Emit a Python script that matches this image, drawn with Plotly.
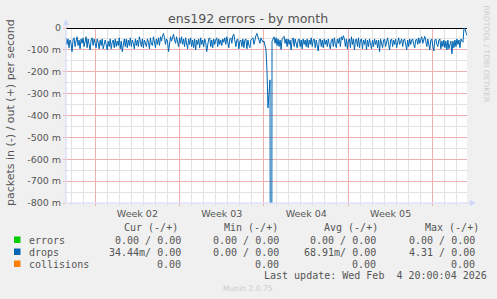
import plotly.graph_objects as go
import pandas as pd

# ---------------- data ----------------
# drops "in" rate, milli-packets per second, 2-hour samples (graphed negative)
drops_in_m = [
    45, 75, 50, 90, 55, 70, 108, 55, 45, 85, 60, 40, 80, 55, 95, 50, 70, 45, 85, 55,
    40, 90, 50, 75, 100, 55, 45, 80, 50, 70, 90, 50, 65, 95, 55, 80, 50, 95, 70, 55,
    75, 100, 60, 85, 50, 95, 65, 55, 90, 50, 85, 60, 80, 45, 95, 60, 108, 65, 50, 85,
    50, 90, 55, 80, 45, 85, 55, 70, 95, 50, 80, 55, 85, 40, 70, 85, 50, 90, 55, 75,
    85, 50, 65, 95, 45, 75, 80, 40, 60, 90, 50, 75, 45, 80, 40, 60, 35, 25, 45, 75,
    50, 60, 108, 55, 40, 60, 35, 28, 55, 70, 40, 60, 85, 45, 70, 40, 75, 50, 85, 45,
    65, 95, 50, 75, 45, 85, 55, 90, 50, 100, 55, 75, 50, 90, 45, 75, 55, 85, 50, 65,
    108, 70, 50, 45, 85, 55, 90, 50, 75, 55, 45, 85, 50, 75, 55, 80, 50, 65, 45, 75,
    40, 65, 90, 50, 45, 70, 35, 28, 60, 85, 55, 50, 95, 60, 55, 85, 50, 90, 55, 50,
    95, 55, 80, 90, 55, 50, 45, 75, 50, 35, 25, 45, 60, 70, 45, 55, 65, 60, 75, 100,
    200, 365, 300, 237, 4310, 60, 50, 40, 70, 45, 80, 50, 85, 55, 98, 50, 45, 38, 70, 50,
    85, 50, 75, 55, 100, 55, 45, 85, 50, 75, 90, 55, 50, 85, 55, 95, 50, 75, 55, 85,
    50, 90, 55, 75, 45, 85, 55, 50, 90, 55, 75, 105, 55, 50, 85, 55, 90, 50, 75, 55,
    85, 50, 75, 95, 55, 50, 85, 45, 75, 90, 50, 70, 45, 85, 40, 55, 35, 50, 85, 50,
    95, 55, 50, 90, 40, 75, 50, 100, 55, 50, 85, 45, 90, 55, 50, 95, 55, 75, 50, 100,
    55, 85, 50, 75, 95, 55, 85, 50, 75, 55, 90, 55, 108, 50, 75, 90, 55, 50, 85, 55,
    45, 75, 100, 55, 50, 85, 55, 75, 50, 90, 55, 45, 75, 55, 50, 85, 55, 50, 75, 100,
    55, 85, 50, 75, 55, 50, 75, 90, 55, 50, 75, 45, 70, 50, 40, 70, 45, 38, 60, 85,
    50, 75, 100, 55, 50, 85, 105, 55, 50, 75, 85, 55, 50, 95, 60, 85, 55, 90, 60, 100,
    55, 95, 80, 60, 118, 60, 90, 55, 85, 50, 75, 55, 90, 50, 60, 65, 0, 3, 20, 34.44,
]
sample_start = "2026-01-02 14:00"
sample_step = "2h"

x_range = ["2026-01-02 14:00", "2026-02-04 20:00"]
week_starts = ["2026-01-05", "2026-01-12", "2026-01-19", "2026-01-26", "2026-02-02"]
week_label_pos = ["2026-01-08 12:00", "2026-01-15 12:00", "2026-01-22 12:00", "2026-01-29 12:00"]
week_labels = ["Week 02", "Week 03", "Week 04", "Week 05"]

y_tickvals = [0, -0.1, -0.2, -0.3, -0.4, -0.5, -0.6, -0.7, -0.8]
y_ticktext = ["0", "-100 m", "-200 m", "-300 m", "-400 m", "-500 m", "-600 m", "-700 m", "-800 m"]

legend_names = ["errors", "drops", "collisions"]
legend_colors = ["#00CC00", "#0066B3", "#FF8000"]
col_headers = ["Cur (-/+)", "Min (-/+)", "Avg (-/+)", "Max (-/+)"]
cur_vals = ["0.00 / 0.00", "34.44m/ 0.00", "0.00"]
min_vals = ["0.00 / 0.00", "0.00 / 0.00", "0.00"]
avg_vals = ["0.00 / 0.00", "68.91m/ 0.00", "0.00"]
max_vals = ["0.00 / 0.00", "4.31 / 0.00", "0.00"]
last_update = "Last update: Wed Feb  4 20:00:04 2026"

# ---------------- layout geometry ----------------
W, H = 497, 299
L, R, T, B = 66, 467, 28, 203


def px(x):
    return (x - L) / (R - L)


def py(y):
    return (B - y) / (B - T)


times = pd.date_range(sample_start, periods=len(drops_in_m), freq=sample_step)
drops_y = [-v / 1000.0 for v in drops_in_m]

# daily minor grid positions (Mondays carry the weekly major grid)
all_days = pd.date_range("2026-01-03", "2026-02-04", freq="D")
minor_days = [d.strftime("%Y-%m-%d") for d in all_days if d.weekday() != 0]

FONT = "DejaVu Sans"
MONO = "DejaVu Sans Mono"
TXT = "#555555"
GRID = "#E2E2E2"
MGRID = "#F0B0B0"
AXIS = "#CFD6F8"

fig = go.Figure()
fig.add_trace(go.Scatter(x=times, y=drops_y, mode="lines",
                         line=dict(color="#0066B3", width=1), hoverinfo="skip",
                         showlegend=False))
# invisible companion on the label axis so it shares the date scale
fig.add_trace(go.Scatter(x=[times[0]], y=[drops_y[0]], xaxis="x2", mode="lines",
                         line=dict(width=0), hoverinfo="skip", showlegend=False))

annotations = []


def text(x, y, s, size=10, color=TXT, family=MONO, xanchor="left", angle=0):
    annotations.append(dict(x=px(x), y=py(y), xref="paper", yref="paper", text=s,
                            showarrow=False, xanchor=xanchor, yanchor="middle",
                            textangle=angle,
                            font=dict(family=family, size=size, color=color)))


# title / side texts
text(248, 18.5, "ens192 errors - by month", size=12.6, family=FONT, xanchor="center")
text(10, 113, "packets in (-) / out (+) per second", size=11, family=FONT,
     xanchor="center", angle=-90)
text(486, 53.5, "RRDTOOL / TOBI OETIKER", size=7.5, family=FONT, color="#CCCCCC",
     xanchor="center", angle=90)
text(248, 288, "Munin 2.0.75", size=7.6, family=FONT, color="#CCCCCC", xanchor="center")

# legend table
header_x = [122, 222, 322, 423]
for hx, h in zip(header_x, col_headers):
    text(hx, 227, h)
row_y = [240, 252, 264]
shapes = []
cols = [(cur_vals, 183), (min_vals, 281), (avg_vals, 378), (max_vals, 477)]
for i, name in enumerate(legend_names):
    yy = row_y[i]
    shapes.append(dict(type="rect", xref="paper", yref="paper",
                       x0=px(14), x1=px(20.5), y0=py(yy - 3.5), y1=py(yy + 3),
                       fillcolor=legend_colors[i], line=dict(width=0)))
    text(27, yy, name)
    for vals, rx in cols:
        text(rx, yy, vals[i], xanchor="right")
text(262, 275.5, last_update)

# axis lines with arrows
shapes.append(dict(type="line", xref="paper", yref="paper", x0=px(66), x1=px(66),
                   y0=py(203), y1=py(22), line=dict(color=AXIS, width=1)))
shapes.append(dict(type="path", xref="paper", yref="paper",
                   path=f"M {px(63)} {py(25)} L {px(69)} {py(25)} L {px(66)} {py(19)} Z",
                   fillcolor=AXIS, line=dict(width=0)))
shapes.append(dict(type="line", xref="paper", yref="paper", x0=px(66), x1=px(471),
                   y0=py(203), y1=py(203), line=dict(color=AXIS, width=1)))
shapes.append(dict(type="path", xref="paper", yref="paper",
                   path=f"M {px(470)} {py(200)} L {px(470)} {py(206)} L {px(476)} {py(203)} Z",
                   fillcolor=AXIS, line=dict(width=0)))

fig.update_layout(
    width=W, height=H,
    margin=dict(l=L, r=W - R, t=T, b=H - B, pad=0),
    paper_bgcolor="#F0F0F0", plot_bgcolor="#FFFFFF",
    showlegend=False,
    annotations=annotations,
    shapes=shapes,
    xaxis=dict(
        type="date", range=x_range, fixedrange=True,
        tickmode="array", tickvals=week_starts, showticklabels=False,
        showgrid=True, gridcolor=MGRID, griddash="solid", gridwidth=1,
        ticks="outside", ticklen=2, tickcolor=MGRID,
        showline=False, zeroline=False,
        minor=dict(tickmode="array", tickvals=minor_days, showgrid=True,
                   gridcolor=GRID, griddash="solid", ticks="outside",
                   ticklen=2, tickcolor=GRID),
    ),
    xaxis2=dict(
        type="date", range=x_range, fixedrange=True, overlaying="x", side="bottom",
        anchor="y",
        tickmode="array", tickvals=week_label_pos, ticktext=week_labels,
        showgrid=False, ticks="", ticklabelstandoff=3,
        tickfont=dict(family=FONT, size=9.5, color=TXT),
        showline=False, zeroline=False,
    ),
    yaxis=dict(
        range=[-0.8, 0], fixedrange=True,
        tickmode="array", tickvals=y_tickvals, ticktext=y_ticktext,
        showgrid=True, gridcolor=MGRID, griddash="solid", gridwidth=1,
        ticks="outside", ticklen=2, tickcolor=MGRID,
        tickfont=dict(family=FONT, size=9.5, color=TXT),
        zeroline=True, zerolinecolor="#000000", zerolinewidth=1,
        showline=False,
        minor=dict(dtick=0.05, tick0=0, showgrid=True, gridcolor=GRID,
                   griddash="solid", ticks="outside", ticklen=2, tickcolor=GRID),
    ),
)

fig.write_html("out.html")
